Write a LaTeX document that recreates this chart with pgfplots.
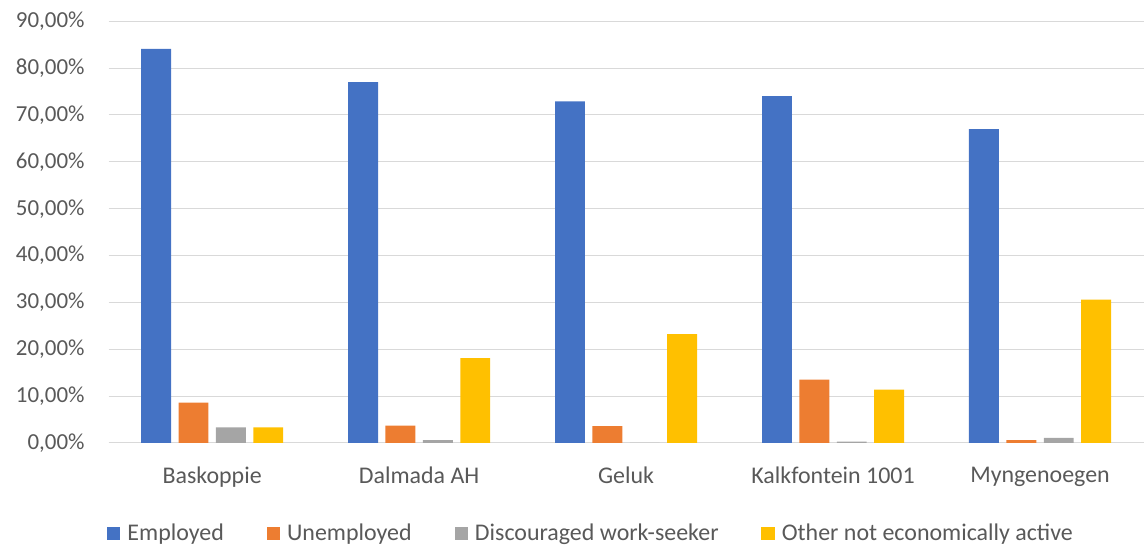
\documentclass[border={8pt 0pt 0pt 4pt}]{standalone}
\usepackage{pgfplots}
\pgfplotsset{compat=1.18}
\usepackage{fontspec}
\setmainfont{Carlito}
\definecolor{cblue}{HTML}{4472C4}
\definecolor{corange}{HTML}{ED7D31}
\definecolor{cgray}{HTML}{A5A5A5}
\definecolor{cyellow}{HTML}{FFC000}
\definecolor{txt}{RGB}{89,89,89}
\definecolor{gridc}{RGB}{217,217,217}
\begin{document}
\fontsize{24}{28}\selectfont
\begin{tikzpicture}
\begin{axis}[
  scale only axis,
  width=1038pt, height=423pt,
  ybar=7.5pt, bar width=30pt,
  xmin=-0.5, xmax=4.5,
  ymin=0, ymax=90,
  xtick=data,
  xticklabels={Baskoppie,Dalmada AH,Geluk,Kalkfontein 1001,Myngenoegen},
  ytick={0,10,...,90},
  /pgf/number format/assume math mode=true,
  yticklabel={\pgfmathprintnumber[fixed,fixed zerofill,precision=2,use comma]{\tick}\%},
  ymajorgrids, xmajorgrids=false,
  grid style={draw=gridc, line width=1pt},
  axis x line*=bottom, axis y line*=left,
  x axis line style={draw=gridc, line width=1pt, -},
  y axis line style={draw=none},
  major tick length=0pt,
  tick label style={text=txt, font=\fontsize{23}{27}\selectfont},
  xticklabel style={yshift=-16pt, font=\fontsize{24}{28}\selectfont},
  yticklabel style={xshift=-16pt},
  legend style={at={(0.466,-0.215)}, anchor=center, draw=none, legend columns=-1,
    font=\fontsize{24}{28}\selectfont, text=txt,
    /tikz/every odd column/.append style={column sep=5pt},
    /tikz/every even column/.append style={column sep=41pt}},
  legend image code/.code={\fill[#1] (0pt,-6.5pt) rectangle (13.5pt,6.5pt);},
]
\addplot[fill=cblue, draw=none] coordinates {(0,84.1) (1,77.0) (2,72.9) (3,74.0) (4,67.0)};
\addplot[fill=corange, draw=none] coordinates {(0,8.6) (1,3.7) (2,3.6) (3,13.5) (4,0.6)};
\addplot[fill=cgray, draw=none] coordinates {(0,3.3) (1,0.6) (2,0) (3,0.3) (4,1.1)};
\addplot[fill=cyellow, draw=none] coordinates {(0,3.3) (1,18.1) (2,23.2) (3,11.4) (4,30.6)};
\legend{Employed,Unemployed,Discouraged work-seeker,Other not economically active}
\end{axis}
\end{tikzpicture}
\end{document}
